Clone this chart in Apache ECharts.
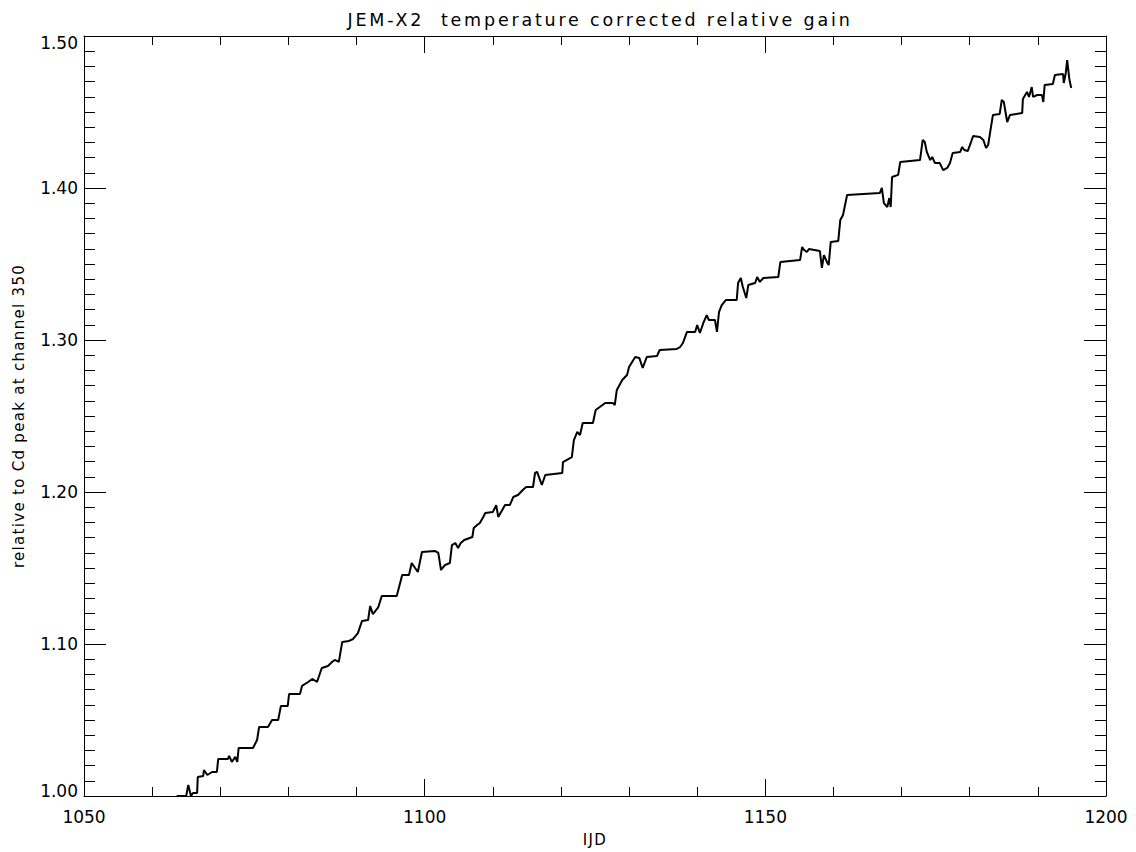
<!DOCTYPE html>
<html>
<head>
<meta charset="utf-8">
<title>JEM-X2 temperature corrected relative gain</title>
<script src="https://cdn.jsdelivr.net/npm/echarts@6/dist/echarts.min.js"></script>
<style>
  html, body { margin: 0; padding: 0; background: #ffffff; }
  #chart { width: 1136px; height: 852px; }
  /* wide letter spacing for the title and axis names */
  #chart text[style*="17.5px"] { letter-spacing: 2.8px; }
  #chart text[style*="15px"] { letter-spacing: 1.3px; }
</style>
</head>
<body>
<div id="chart"></div>
<script>
// IJD (days) of each gain measurement
const ijd = [1063.6,1065.0,1065.3,1065.7,1066.0,1066.6,1066.7,1067.5,1067.6,1068.1,1068.8,1069.5,1069.7,1071.1,1071.3,1071.7,1072.2,1072.5,1072.7,1074.8,1075.4,1075.7,1077.0,1077.6,1078.5,1078.9,1079.9,1080.1,1081.7,1082.0,1082.9,1083.5,1084.2,1084.9,1085.8,1086.4,1086.8,1087.4,1087.9,1088.9,1089.5,1090.2,1090.8,1091.7,1092.0,1092.4,1093.2,1093.7,1095.9,1096.4,1096.7,1097.7,1098.1,1098.6,1099.0,1099.6,1101.5,1102.0,1102.4,1103.0,1103.7,1104.0,1104.5,1104.9,1105.3,1105.8,1107.0,1107.2,1107.7,1108.1,1108.6,1108.9,1110.0,1110.5,1110.8,1111.8,1112.5,1113.0,1113.7,1114.4,1114.9,1115.9,1116.2,1116.5,1117.2,1117.7,1120.2,1120.3,1121.6,1121.9,1122.4,1122.8,1123.2,1124.7,1125.1,1125.7,1126.5,1127.6,1127.9,1128.2,1129.0,1129.7,1130.0,1130.9,1131.5,1132.0,1132.6,1134.1,1134.5,1137.0,1137.5,1137.9,1138.5,1139.7,1140.0,1140.4,1140.9,1141.4,1141.7,1142.6,1142.9,1143.2,1143.6,1144.2,1145.8,1146.0,1146.4,1146.7,1147.2,1147.5,1148.5,1148.8,1149.2,1149.7,1151.9,1152.2,1155.1,1155.4,1155.7,1156.1,1156.4,1158.0,1158.3,1158.6,1159.1,1159.3,1159.6,1160.7,1161.0,1161.4,1162.0,1166.8,1167.1,1167.4,1167.9,1168.2,1168.4,1168.6,1169.5,1169.8,1172.7,1173.1,1173.4,1173.7,1174.2,1174.5,1174.9,1175.6,1176.1,1176.7,1177.1,1177.5,1178.6,1178.9,1179.2,1179.7,1180.2,1180.5,1181.5,1182.0,1182.4,1182.7,1183.0,1183.4,1184.4,1184.7,1185.0,1185.5,1185.9,1187.7,1187.8,1188.4,1188.7,1189.1,1189.3,1189.9,1190.6,1190.8,1191.0,1192.2,1192.5,1193.7,1193.8,1194.1,1194.3,1194.6,1194.7,1194.9];

// temperature corrected gain, relative to the Cd peak at channel 350
const gain = [1.000,1.000,1.0072,1.000,1.0020,1.0020,1.0125,1.0132,1.0171,1.0138,1.0158,1.0158,1.0243,1.0243,1.0263,1.0224,1.0257,1.0224,1.0316,1.0316,1.0368,1.0454,1.0454,1.0500,1.0500,1.0592,1.0592,1.0671,1.0671,1.0724,1.0750,1.0770,1.0750,1.0842,1.0855,1.0882,1.0895,1.0882,1.1013,1.1020,1.1033,1.1072,1.1151,1.1158,1.1250,1.1197,1.1243,1.1316,1.1316,1.1401,1.1454,1.1454,1.1533,1.1500,1.1474,1.1605,1.1612,1.1599,1.1487,1.1520,1.1533,1.1651,1.1664,1.1632,1.1664,1.1684,1.1704,1.1763,1.1783,1.1796,1.1836,1.1862,1.1868,1.1914,1.1836,1.1914,1.1914,1.1967,1.1980,1.2013,1.2033,1.2033,1.2125,1.2132,1.2046,1.2112,1.2125,1.2197,1.2230,1.2342,1.2395,1.2375,1.2454,1.2454,1.2539,1.2559,1.2586,1.2586,1.2572,1.2671,1.2737,1.2770,1.2822,1.2888,1.2882,1.2816,1.2888,1.2895,1.2934,1.2941,1.2954,1.2980,1.3053,1.3053,1.3099,1.3046,1.3112,1.3164,1.3132,1.3132,1.3053,1.3184,1.3230,1.3263,1.3263,1.3375,1.3408,1.3349,1.3276,1.3362,1.3375,1.3414,1.3382,1.3408,1.3414,1.3513,1.3526,1.3612,1.3592,1.3579,1.3599,1.3586,1.3474,1.3559,1.3507,1.3493,1.3645,1.3651,1.3789,1.3822,1.3954,1.3967,1.4000,1.3901,1.3875,1.3934,1.3875,1.4072,1.4086,1.4171,1.4184,1.4316,1.4303,1.4237,1.4184,1.4204,1.4164,1.4164,1.4118,1.4132,1.4164,1.4230,1.4237,1.4270,1.4250,1.4243,1.4303,1.4342,1.4336,1.4316,1.4263,1.4283,1.4368,1.4480,1.4487,1.4579,1.4566,1.4434,1.4480,1.4493,1.4586,1.4632,1.4599,1.4664,1.4599,1.4612,1.4612,1.4566,1.4678,1.4684,1.4743,1.4750,1.4691,1.4757,1.4842,1.4724,1.4697,1.4658];

// major tick values and their labels
const xTickValues = [1050, 1100, 1150, 1200];
const xTickLabels = ['1050', '1100', '1150', '1200'];
const yTickValues = [1.0, 1.1, 1.2, 1.3, 1.4, 1.5];
const yTickLabels = ['1.00', '1.10', '1.20', '1.30', '1.40', '1.50'];

const titleText = 'JEM-X2  temperature corrected relative gain';
const xName = 'IJD';
const yName = 'relative to Cd peak at channel 350';

const FONT = '"DejaVu Sans", "Liberation Sans", sans-serif';
const INK = '#000000';

function labelFor(values, labels, v) {
  for (let i = 0; i < values.length; i++) {
    if (Math.abs(values[i] - v) < 1e-6) return labels[i];
  }
  return '';
}

const points = [];
for (let i = 0; i < Math.min(ijd.length, gain.length); i++) points.push([ijd[i], gain[i]]);

const xMin = xTickValues[0], xMax = xTickValues[xTickValues.length - 1];
const yMin = yTickValues[0], yMax = yTickValues[yTickValues.length - 1];

function xAxisDef(position, showLabels) {
  return {
    type: 'value', position: position,
    min: xMin, max: xMax, interval: 50,
    name: showLabels ? xName : '',
    nameLocation: 'middle', nameGap: 36,
    nameTextStyle: { fontFamily: FONT, fontSize: 15, color: INK },
    axisLine: { show: true, onZero: false, lineStyle: { color: INK, width: 1 } },
    axisTick: { show: true, inside: true, length: 17, lineStyle: { color: INK, width: 1 } },
    minorTick: { show: true, splitNumber: 5, length: 9, lineStyle: { color: INK, width: 1 } },
    splitLine: { show: false },
    minorSplitLine: { show: false },
    axisLabel: {
      show: showLabels, margin: 12, color: INK, fontFamily: FONT, fontSize: 17,
      formatter: v => labelFor(xTickValues, xTickLabels, v)
    }
  };
}

function yAxisDef(position, showLabels) {
  return {
    type: 'value', position: position,
    min: yMin, max: yMax, interval: 0.1,
    name: showLabels ? yName : '',
    nameLocation: 'middle', nameGap: 58, nameRotate: 90,
    nameTextStyle: { fontFamily: FONT, fontSize: 15, color: INK },
    axisLine: { show: true, onZero: false, lineStyle: { color: INK, width: 1 } },
    axisTick: { show: true, inside: true, length: 22, lineStyle: { color: INK, width: 1 } },
    minorTick: { show: true, splitNumber: 10, length: 11, lineStyle: { color: INK, width: 1 } },
    splitLine: { show: false },
    minorSplitLine: { show: false },
    axisLabel: {
      show: showLabels, margin: 6, color: INK, fontFamily: FONT, fontSize: 17,
      formatter: v => {
        const s = labelFor(yTickValues, yTickLabels, v);
        if (Math.abs(v - yMax) < 1e-6) return '{hi|' + s + '}';
        if (Math.abs(v - yMin) < 1e-6) return '{lo|' + s + '}';
        return s;
      },
      rich: {
        hi: { fontFamily: FONT, fontSize: 17, color: INK, padding: [14, 0, 0, 0] },
        lo: { fontFamily: FONT, fontSize: 17, color: INK, padding: [0, 0, 10, 0] }
      }
    }
  };
}

const chart = echarts.init(document.getElementById('chart'), null, { renderer: 'svg' });
chart.setOption({
  animation: false,
  backgroundColor: '#ffffff',
  title: {
    text: titleText,
    left: 595, top: 6, textAlign: 'center',
    textStyle: { fontFamily: FONT, fontSize: 17.5, fontWeight: 'normal', color: INK }
  },
  grid: { left: 84, right: 30, top: 36, bottom: 56 },
  xAxis: [xAxisDef('bottom', true), xAxisDef('top', false)],
  yAxis: [yAxisDef('left', true), yAxisDef('right', false)],
  series: [{
    type: 'line',
    xAxisIndex: 0, yAxisIndex: 0,
    data: points,
    showSymbol: false,
    clip: true,
    lineStyle: { color: INK, width: 2 },
    emphasis: { disabled: true }
  }]
});
</script>
</body>
</html>
